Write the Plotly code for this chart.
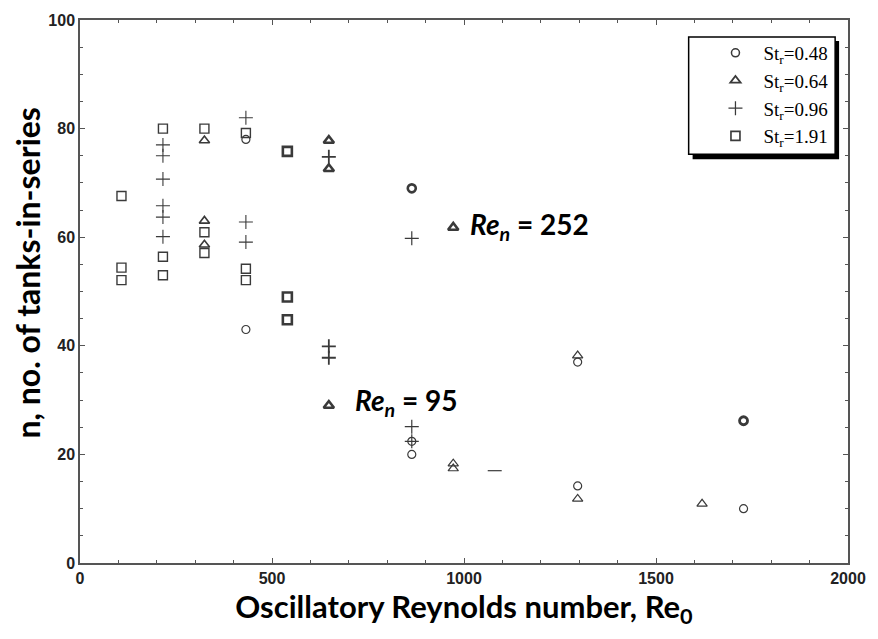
import plotly.graph_objects as go

# ---------------- data ----------------
re_048 = [432, 432, 864, 864, 864, 1296, 1296, 1728, 1728]
n_048 = [78, 43, 69, 22.4, 20, 37, 14.2, 26.2, 10]

re_064 = [324, 324, 324, 648, 648, 648, 972, 972, 972, 1296, 1296, 1620]
n_064 = [77.8, 63, 58.6, 77.8, 72.6, 29, 61.8, 18.3, 17.4, 38.2, 11.8, 10.9]

re_096 = [216, 216, 216, 216, 216, 216, 432, 432, 432, 648, 648, 648, 864, 864, 864, 1080]
n_096 = [77, 75, 70.7, 65.8, 63.7, 60.1, 82, 62.8, 59.1, 74.8, 39.9, 37.8, 59.8, 25.1, 22.4, 17]

re_191 = [108, 108, 108, 216, 216, 216, 324, 324, 324, 432, 432, 432, 540, 540, 540]
n_191 = [67.6, 54.4, 52.1, 80, 56.4, 53, 80, 60.9, 57.1, 79.2, 54.2, 52.1, 75.8, 49, 44.8]

series_names = ["St<sub>r</sub>=0.48", "St<sub>r</sub>=0.64", "St<sub>r</sub>=0.96", "St<sub>r</sub>=1.91"]
x_tick_vals = [0, 500, 1000, 1500, 2000]
y_tick_vals = [0, 20, 40, 60, 80, 100]

ann_252 = (1010, 62, "<b><i>Re</i><sub><i>n</i></sub> = 252</b>")
ann_95 = (712, 29.6, "<b><i>Re</i><sub><i>n</i></sub> = 95</b>")
x_title = "<b>Oscillatory Reynolds number, Re<sub>0</sub></b>"
y_title = "<b>n, no. of tanks-in-series</b>"

# ---------------- styling ----------------
W, H = 878, 639
ML, MR, MT, MB = 80, 22, 17, 76
PW, PH = W - ML - MR, H - MT - MB

# per-point line widths (bold-looking marks in the scan)
lw_048 = [1.2, 1.2, 2.6, 1.2, 1.2, 1.2, 1.2, 2.8, 1.2]
lw_064 = [1.6, 1.6, 1.6, 2.6, 2.6, 2.6, 2.6, 1.2, 1.2, 1.2, 1.2, 1.2]
lw_096 = [1.1] * 6 + [1.1] * 3 + [1.8] * 3 + [1.2] * 3 + [1.2]
lw_191 = [1.4] * 12 + [2.6] * 3
sym_096 = ["cross-thin-open"] * 15 + ["line-ew-open"]

dark = "#3a3a3a"

fig = go.Figure()
specs = [
    (re_048, n_048, "circle-open", 8, lw_048),
    (re_064, n_064, "triangle-up-open", 9, lw_064),
    (re_096, n_096, sym_096, 10, lw_096),
    (re_191, n_191, "square-open", 9, lw_191),
]
for (xs, ys, sym, sz, lw), name in zip(specs, series_names):
    fig.add_trace(go.Scatter(
        x=xs, y=ys, mode="markers", name=name,
        marker=dict(symbol=sym, size=sz, color=dark,
                    line=dict(color=dark, width=lw)),
    ))


def px2x(px):
    return (px - ML) / PW


def py2y(py):
    return (H - MB - py) / PH


# legend box + shadow
bx0, by0, bx1, by1 = 695, 34, 843, 152
shapes = [
    dict(type="rect", xref="paper", yref="paper",
         x0=px2x(bx0 + 4), x1=px2x(bx1 + 4), y0=py2y(by1 + 5), y1=py2y(by0 + 4),
         fillcolor="black", line=dict(width=0), layer="above"),
    dict(type="rect", xref="paper", yref="paper",
         x0=px2x(bx0), x1=px2x(bx1), y0=py2y(by1), y1=py2y(by0),
         fillcolor="white", line=dict(color="black", width=1.5), layer="above"),
]

annotations = []
for ax_, ay_, txt in (ann_252, ann_95):
    annotations.append(dict(
        x=ax_, y=ay_, xref="x", yref="y", text=txt, showarrow=False,
        xanchor="left", yanchor="middle",
        font=dict(family="Lato", size=28, color="black"),
    ))
# y-axis title (placed to match the reference's slightly raised position)
annotations.append(dict(
    x=0, y=py2y(271), xref="paper", yref="paper", xshift=28 - ML,
    text=y_title, textangle=-90, showarrow=False,
    xanchor="center", yanchor="middle",
    font=dict(family="Lato", size=32, color="black"),
))

axis_common = dict(
    showline=True, linecolor="#555", linewidth=1.5, mirror="allticks",
    ticks="inside", ticklen=5, tickcolor="#555", tickwidth=1.2,
    showgrid=False, zeroline=False,
    tickfont=dict(family="Liberation Sans", size=16, color="#222", weight="bold"),
)

fig.update_layout(
    width=W, height=H,
    margin=dict(l=ML, r=MR, t=MT, b=MB),
    paper_bgcolor="white", plot_bgcolor="white",
    showlegend=True,
    legend=dict(
        x=px2x(714), y=py2y(31), xanchor="left", yanchor="top",
        bgcolor="rgba(0,0,0,0)", borderwidth=0,
        font=dict(family="Liberation Serif", size=19, color="black"),
        itemwidth=46, tracegroupgap=0,
    ),
    shapes=shapes,
    annotations=annotations,
    xaxis=dict(
        range=[0, 2000], tickvals=x_tick_vals,
        minor=dict(dtick=100, ticks="inside", ticklen=3, tickcolor="#555"),
        title=dict(text=x_title,
                   font=dict(family="Lato", size=31, color="black"), standoff=6),
        **axis_common,
    ),
    yaxis=dict(
        range=[0, 100], tickvals=y_tick_vals,
        minor=dict(dtick=5, ticks="inside", ticklen=3, tickcolor="#555"),
        **axis_common,
    ),
)

fig.write_html("out.html")
